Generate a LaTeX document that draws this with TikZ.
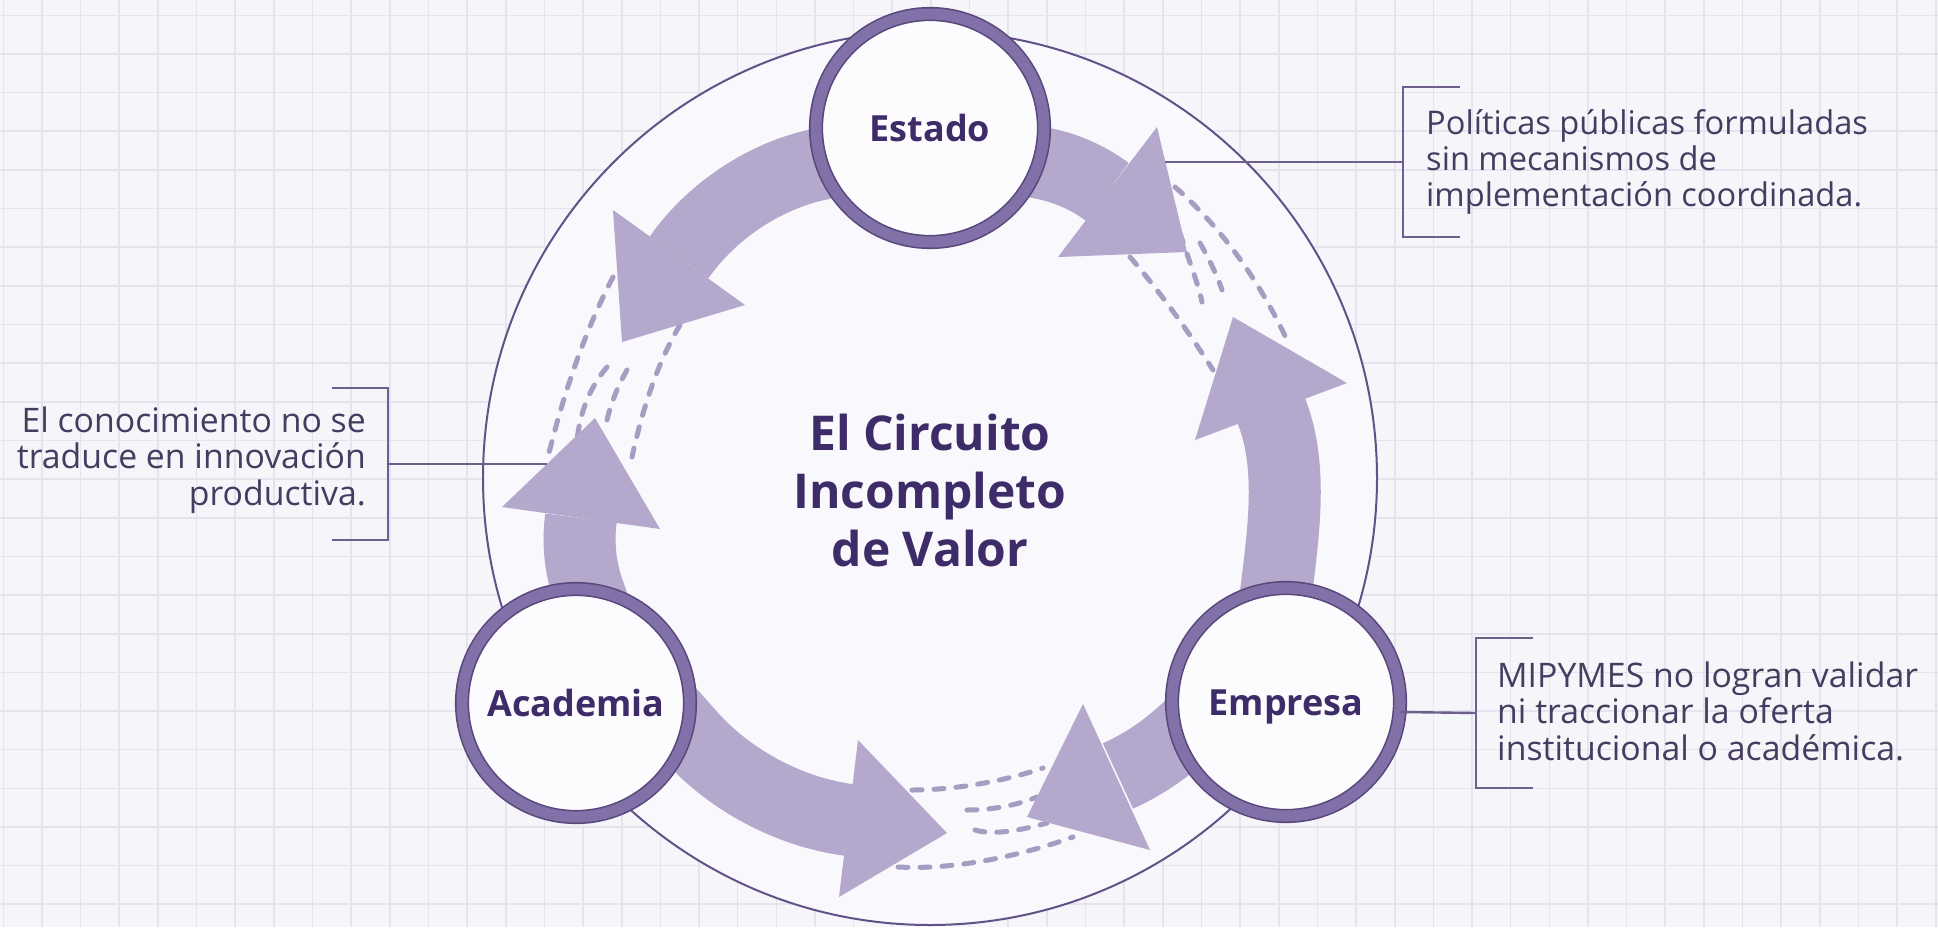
\documentclass[tikz,border=0pt]{standalone}
\usepackage{fontspec}
\setmainfont{Open Sans}
\usetikzlibrary{calc}
\definecolor{bgc}{RGB}{246,245,250}
\definecolor{gridc}{RGB}{229,227,237}
\definecolor{innerc}{RGB}{249,248,252}
\definecolor{bigline}{RGB}{98,82,135}
\definecolor{arrowc}{RGB}{180,168,204}
\definecolor{dashc}{RGB}{166,157,194}
\definecolor{ringmid}{RGB}{130,112,168}
\definecolor{ringdark}{RGB}{88,72,124}
\definecolor{nodefill}{RGB}{252,252,254}
\definecolor{titlec}{RGB}{62,44,105}
\definecolor{labelc}{RGB}{70,60,96}
\definecolor{linec}{RGB}{110,95,142}
\tikzset{
  gridline/.style={draw=gridc, line width=1.6pt},
  shaft/.style={draw=arrowc, line width=72pt},
  headc/.style={fill=arrowc},
  gap/.style={draw=dashc, line width=5pt, line cap=round, dash pattern=on 10pt off 12pt},
  actor/.style={circle, minimum size=228pt, inner sep=0pt, fill=nodefill,
    draw=ringdark, line width=1.6pt, double=ringmid, double distance=11pt,
    font=\fontsize{36}{40}\selectfont\bfseries, text=titlec, text height=26pt, text depth=0pt},
  ttl/.style={font=\fontsize{48}{56}\selectfont\bfseries, text=titlec, inner sep=0pt, anchor=base},
  lbl/.style={font=\fontsize{33.8}{38}\selectfont, text=labelc, inner sep=0pt},
  lblr/.style={lbl, font=\fontsize{32.6}{38}\selectfont},
  brk/.style={draw=linec, line width=2.4pt}
}
\begin{document}
\begin{tikzpicture}[x=1pt,y=-1pt]
\useasboundingbox (0,0) rectangle (1938,927);
\fill[bgc] (0,0) rectangle (1938,927);
\foreach \i in {0,...,50} \draw[gridline] ({3.3+38.65*\i},0) -- ({3.3+38.65*\i},927);
\foreach \j in {0,...,23} \draw[gridline] (0,{15.3+38.65*\j}) -- (1938,{15.3+38.65*\j});
% big circle
\fill[innerc] (930,478) circle[radius=447pt];
\draw[bigline, line width=2pt] (930,478) circle[radius=447pt];
% dashed gaps
\draw[gap] (613,277) .. controls (586.7,327.7) and (565,387.7) .. (548,457);
\draw[gap] (680,325) .. controls (660,358.3) and (644,402.3) .. (632,457);
\draw[gap] (607,367) .. controls (590.3,386.7) and (580.3,411) .. (577,440);
\draw[gap] (627,370) .. controls (615.7,390) and (608.3,410) .. (605,430);
\draw[gap] (1175,187) .. controls (1220.3,226.7) and (1257.7,277.7) .. (1287,340);
\draw[gap] (1130,257) .. controls (1158.3,290) and (1186,327.7) .. (1213,370);
\draw[gap] (1180,233) .. controls (1187,255) and (1198,283) .. (1202,302);
\draw[gap] (1200,243) .. controls (1208,257) and (1217,275) .. (1222,290);
\draw[gap] (912,790) .. controls (955,790) and (1005,781) .. (1043,768);
\draw[gap] (898,867) .. controls (955,870) and (1020,856) .. (1073,837);
\draw[gap] (967,810) .. controls (990,810) and (1015,806) .. (1037,797);
\draw[gap] (975,830) .. controls (995,836) and (1025,829) .. (1047,823);
% arrows
\draw[shaft] (874.5,151.8) -- (816,165) .. controls (762.4,177.1) and (710.4,212.4) .. (679,257.5);
\fill[headc] (613,210) -- (745,305) -- (622,342) -- cycle;
\draw[shaft] (607.7,646.6) -- (588,590) .. controls (580.1,567.3) and (577.7,541.8) .. (581,518);
\fill[headc] (502,507) -- (660,529) -- (595,418) -- cycle;
\draw[shaft] (984.6,152.1) -- (1043.5,163.5) .. controls (1066.1,167.9) and (1089.1,178.2) .. (1107.5,192);
\fill[headc] (1157,127) -- (1058,257) -- (1187,252) -- cycle;
\draw[shaft] (1270,644) -- (1277,585) .. controls (1284,527.6) and (1292.6,463.8) .. (1271,410);
\fill[headc] (1347,383) -- (1195,440) -- (1233,317) -- cycle;
\draw[shaft] (1223.6,697.4) -- (1178.5,737) .. controls (1160.5,752.8) and (1139.9,766.1) .. (1118,776);
\fill[headc] (1083,704) -- (1150,850) -- (1027,817) -- cycle;
\draw[shaft] (650.2,690.6) -- (690,735.5) .. controls (729.8,780.4) and (789.5,812.1) .. (849,820);
\fill[headc] (858,740) -- (839,897) -- (947,833) -- cycle;
% nodes
\node[actor] (estado) at (930,128) {Estado};
\node[actor] (academia) at (576,703) {Academia};
\node[actor] (empresa) at (1286,702) {Empresa};
% title
\node[ttl] (t1) at (930,450) {El Circuito};
\node[ttl] (t2) at (930,508.5) {Incompleto};
\node[ttl] (t3) at (930,566.5) {de Valor};
% connector coordinates
\coordinate (h3) at (1165,162);
\coordinate (b1) at (1403,162);
\coordinate (h2) at (547,464);
\coordinate (b2) at (388,464);
\coordinate (b3) at (1476,713);
% brackets and connectors
\draw[brk] (1460,87) -- (1403,87) -- (1403,237) -- (1460,237);
\draw[brk] (h3) -- (b1);
\draw[brk] (332,388) -- (388,388) -- (388,540) -- (332,540);
\draw[brk] (b2) -- (h2);
\draw[brk] (1533,638) -- (1476,638) -- (1476,788) -- (1533,788);
\draw[brk] (empresa.-5) -- (b3);
% labels
\node[lblr, anchor=base west] (r1) at (1426,134) {Políticas públicas formuladas};
\node[lblr, anchor=base west] (r2) at (1426,170) {sin mecanismos de};
\node[lblr, anchor=base west] (r3) at (1426,206) {implementación coordinada.};
\node[lbl, anchor=base east] (l1) at (366,432) {El conocimiento no se};
\node[lbl, anchor=base east] (l2) at (366,468) {traduce en innovación};
\node[lbl, anchor=base east] (l3) at (366,505) {productiva.};
\node[lbl, anchor=base west] (e1) at (1497,687) {MIPYMES no logran validar};
\node[lbl, anchor=base west] (e2) at (1497,723) {ni traccionar la oferta};
\node[lbl, anchor=base west] (e3) at (1497,760) {institucional o académica.};
\end{tikzpicture}
\end{document}
